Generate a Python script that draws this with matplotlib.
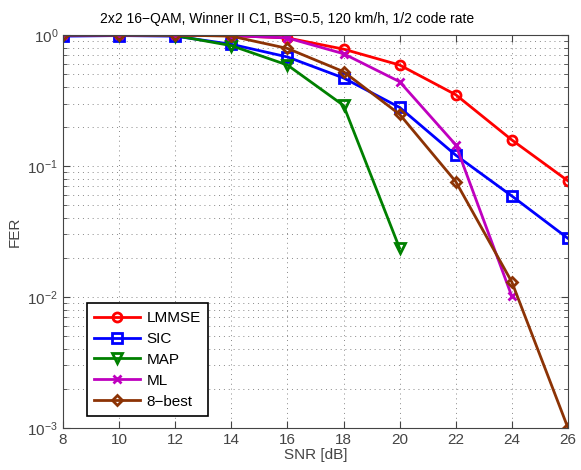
import matplotlib
matplotlib.use("Agg")
import matplotlib.pyplot as plt
import numpy as np

plt.rcParams['font.family'] = ['Liberation Sans', 'DejaVu Sans']

snr = [8, 10, 12, 14, 16, 18, 20, 22, 24, 26]
lmmse = [1.0, 1.0, 1.0, 0.99, 0.95, 0.78, 0.59, 0.35, 0.158, 0.077]
sic = [0.98, 0.99, 0.98, 0.85, 0.68, 0.47, 0.28, 0.121, 0.059, 0.028]
snr_map = [8, 10, 12, 14, 16, 18, 20]
map_ = [1.0, 1.0, 0.99, 0.83, 0.59, 0.29, 0.0235]
snr_ml = [8, 10, 12, 14, 16, 18, 20, 22, 24]
ml = [1.0, 1.0, 1.0, 0.99, 0.95, 0.72, 0.44, 0.145, 0.0101]
best8 = [1.0, 1.0, 1.0, 0.98, 0.79, 0.525, 0.248, 0.076, 0.013, 0.001]

fig = plt.figure(figsize=(5.81, 4.70), dpi=100)
ax = fig.add_axes([0.1084, 0.0894, 0.8692, 0.8361])

kw = dict(lw=2, ms=6.5, mew=2, mfc='none')
ax.semilogy(snr, lmmse, '-o', color='red', label='LMMSE', **kw)
ax.semilogy(snr, sic, '-s', color='blue', label='SIC', **kw)
ax.semilogy(snr_map, map_, '-v', color=(0, 0.5, 0), label='MAP', **kw)
ax.semilogy(snr_ml, ml, '-x', color=(0.75, 0, 0.75), label='ML',
            lw=2, ms=5.5, mew=2)
ax.semilogy(snr, best8, '-D', color=(0.55, 0.2, 0.02), label='8\u2212best',
            lw=2, ms=5.5, mew=2, mfc='none')

ax.set_xlim(8, 26)
ax.set_ylim(1e-3, 1)
ax.set_xticks(snr)
gc = '#888888'
ax.grid(True, which='major', ls=(0, (1, 4)), color=gc, lw=0.7)
ax.grid(True, which='minor', axis='y', ls=(0, (1, 4)), color=gc, lw=0.7)
ax.tick_params(which='both', direction='in', top=True, right=True,
               labelsize=11, labelcolor='#444444', color='#444444')
ax.tick_params(which='major', length=5)
ax.tick_params(which='minor', length=3)
for s in ax.spines.values():
    s.set_color('#444444')

ax.set_xlabel('SNR [dB]', fontsize=11, color='#444444', labelpad=1)
ax.set_ylabel('FER', fontsize=11, color='#444444', labelpad=4)
fig.text(0.494, 0.951,
         '2x2 16\u2212QAM, Winner II C1, BS=0.5, 120 km/h, 1/2 code rate',
         fontsize=10, ha='center', va='baseline')

leg = ax.legend(loc='lower left', fontsize=11, fancybox=False, framealpha=1,
                edgecolor='black', handlelength=3, borderaxespad=0,
                bbox_to_anchor=(0.047, 0.03), labelspacing=0.45,
                borderpad=0.5, handletextpad=0.4)
leg.get_frame().set_linewidth(1.2)

fig.savefig('out.png', dpi=100)
